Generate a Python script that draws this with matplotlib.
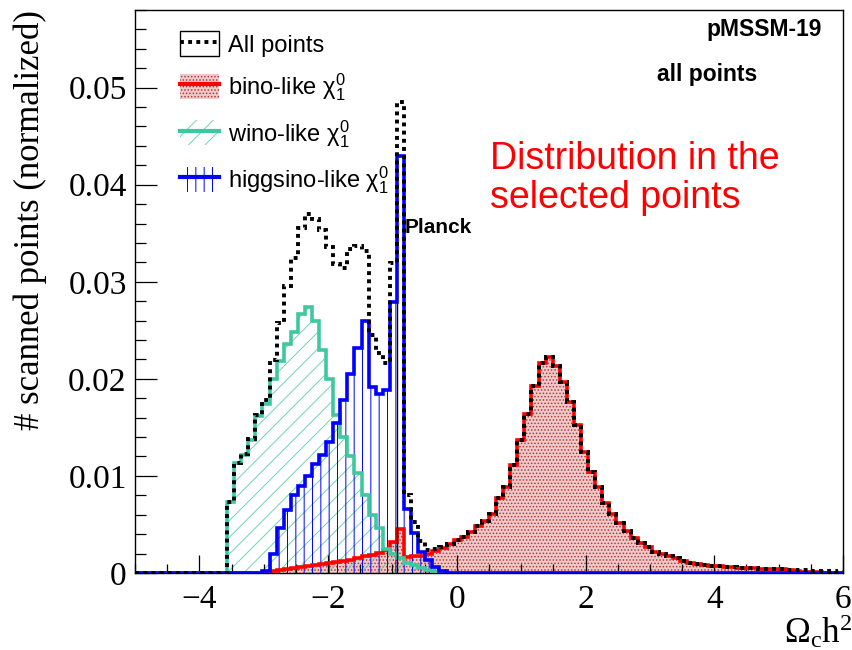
import numpy as np
import matplotlib
matplotlib.use("Agg")
import matplotlib.pyplot as plt
from matplotlib.ticker import MultipleLocator, FuncFormatter
from matplotlib.patches import Patch
from matplotlib.lines import Line2D
from matplotlib.legend_handler import HandlerTuple

# histogram binning (log10 of relic density)
x_min, x_max, n_bins = -5.0, 6.0, 100

# bin contents, normalized
all_points = [
    0, 0, 0, 0, 0, 0, 0, 0, 0, 0,
    0, 0, 0, 0.0073, 0.0113, 0.0123, 0.0138, 0.0163, 0.0178, 0.0219,
    0.0258, 0.0296, 0.0324, 0.0355, 0.0370, 0.0365, 0.0353, 0.0336, 0.0318, 0.0314,
    0.0334, 0.0337, 0.0332, 0.0245, 0.0227, 0.0216, 0.0319, 0.0485, 0.0080, 0.0053,
    0.0033, 0.0024, 0.0025, 0.0027, 0.0030, 0.0034, 0.0037, 0.0042, 0.0048, 0.0054,
    0.0061, 0.0077, 0.0089, 0.0111, 0.0137, 0.0164, 0.0193, 0.0216, 0.0223, 0.0213,
    0.0197, 0.0176, 0.0152, 0.0125, 0.0104, 0.0089, 0.0072, 0.0061, 0.0051, 0.0043,
    0.0036, 0.0031, 0.0027, 0.0022, 0.0020, 0.0017, 0.0015, 0.0012, 0.0010, 0.0009,
    0.0008, 0.0007, 0.0007, 0.0006, 0.0006, 0.0005, 0.0005, 0.0005, 0.0004, 0.0004,
    0.0004, 0.0004, 0.0003, 0.0003, 0.0003, 0.0002, 0.0002, 0.0002, 0.0002, 0.0001,
]
bino = [
    0, 0, 0, 0, 0, 0, 0, 0, 0, 0,
    0, 0, 0, 0, 0, 0, 0, 0, 0, 0.0002,
    0.0003, 0.0004, 0.0005, 0.0006, 0.0007, 0.0008, 0.0009, 0.0010, 0.0011, 0.0012,
    0.0013, 0.0015, 0.0017, 0.0019, 0.0021, 0.0024, 0.0032, 0.0045, 0.0016, 0.0017,
    0.0018, 0.0020, 0.0023, 0.0026, 0.0030, 0.0034, 0.0037, 0.0042, 0.0048, 0.0054,
    0.0061, 0.0077, 0.0089, 0.0111, 0.0137, 0.0164, 0.0193, 0.0216, 0.0223, 0.0213,
    0.0197, 0.0176, 0.0152, 0.0125, 0.0104, 0.0089, 0.0072, 0.0061, 0.0051, 0.0043,
    0.0036, 0.0031, 0.0027, 0.0022, 0.0020, 0.0017, 0.0015, 0.0012, 0.0010, 0.0009,
    0.0008, 0.0007, 0.0007, 0.0006, 0.0006, 0.0005, 0.0005, 0.0005, 0.0004, 0.0004,
    0.0004, 0.0004, 0.0003, 0.0002, 0.0001, 0.0001, 0.0001, 0, 0, 0,
]
wino = [
    0, 0, 0, 0, 0, 0, 0, 0, 0, 0,
    0, 0, 0, 0.0073, 0.0113, 0.0122, 0.0137, 0.0162, 0.0174, 0.0200,
    0.0218, 0.0236, 0.0248, 0.0267, 0.0274, 0.0260, 0.0230, 0.0200, 0.0163, 0.0140,
    0.0120, 0.0103, 0.0080, 0.0060, 0.0046, 0.0025, 0.0020, 0.0015, 0.0010, 0.0008,
    0.0005, 0.0003, 0.0001, 0, 0, 0, 0, 0, 0, 0,
] + [0] * 50
higgsino = [
    0, 0, 0, 0, 0, 0, 0, 0, 0, 0,
    0, 0, 0, 0, 0, 0, 0, 0, 0.0002, 0.0020,
    0.0046, 0.0065, 0.0080, 0.0090, 0.0100, 0.0112, 0.0122, 0.0135, 0.0155, 0.0178,
    0.0205, 0.0232, 0.0260, 0.0192, 0.0184, 0.0188, 0.0279, 0.0430, 0.0066, 0.0041,
    0.0022, 0.0013, 0.0006, 0.0002, 0, 0, 0, 0, 0, 0,
] + [0] * 50

planck_x = np.log10(0.1188)
planck_top = 0.028

edges = np.linspace(x_min, x_max, n_bins + 1)

plt.rcParams['font.family'] = ['Liberation Sans', 'DejaVu Sans']
plt.rcParams['mathtext.fontset'] = 'custom'
plt.rcParams['mathtext.rm'] = 'Liberation Serif'
plt.rcParams['mathtext.it'] = 'Liberation Serif:italic'
plt.rcParams['mathtext.sf'] = 'Liberation Sans'
plt.rcParams['hatch.linewidth'] = 0.7

red = '#ff0000'
green = '#3fc7a0'
blue = '#0000ff'
bino_face = '#efcaca'
bino_dots = '#b03a3a'
wino_hatch = '#6fd3b6'

fig = plt.figure(figsize=(8.52, 6.5), dpi=100)
ax = fig.add_axes([0.1585, 0.1185, 0.8309, 0.8661])

# fills
ax.stairs(bino, edges, fill=True, facecolor=bino_face, edgecolor=bino_dots,
          hatch='.....', linewidth=0, zorder=1)
ax.stairs(wino, edges, fill=True, facecolor='none', edgecolor=wino_hatch,
          hatch='//', linewidth=0, zorder=1.1)
ax.stairs(higgsino, edges, fill=True, facecolor='none', edgecolor=blue,
          hatch='||', linewidth=0, zorder=1.2)

# outlines
ax.stairs(bino, edges, color=red, linewidth=2.6, zorder=3)
ax.stairs(wino, edges, color=green, linewidth=2.6, zorder=3.1)
ax.stairs(higgsino, edges, color=blue, linewidth=2.6, zorder=3.2)
ax.vlines(planck_x, 0, planck_top, color='black', linewidth=1.0, zorder=3.3)
ax.stairs(all_points, edges, color='black', linewidth=2.8,
          linestyle=(0, (1, 1.1)), zorder=4)

ax.set_xlim(x_min, x_max)
ax.set_ylim(0, 0.058)

ax.xaxis.set_major_locator(MultipleLocator(2))
ax.xaxis.set_minor_locator(MultipleLocator(0.5))
ax.yaxis.set_major_locator(MultipleLocator(0.01))
ax.yaxis.set_minor_locator(MultipleLocator(0.002))
ax.yaxis.set_major_formatter(FuncFormatter(lambda v, p: f'{v:g}'))

ax.tick_params(axis='both', which='both', direction='in', top=False, right=False,
               width=0.9, labelfontfamily='Liberation Serif', labelsize=24)
ax.tick_params(axis='y', which='major', length=16, pad=6)
ax.tick_params(axis='y', which='minor', length=8)
ax.tick_params(axis='x', which='major', length=13, pad=8)
ax.tick_params(axis='x', which='minor', length=6.5)
for s in ax.spines.values():
    s.set_linewidth(1.0)

ax.set_ylabel('# scanned points (normalized)', family='Liberation Serif',
              fontsize=25, loc='top')
ax.yaxis.set_label_coords(-0.125, 1.0)
ax.set_xlabel(r'$\mathrm{\Omega_{c}h^{2}}$', fontsize=25, loc='right')
ax.xaxis.set_label_coords(1.013, -0.07)

ax.text(0.970, 0.965, 'pMSSM-19', transform=ax.transAxes, ha='right', va='center',
        fontsize=16.5, fontweight='bold')
ax.text(0.808, 0.885, 'all points', transform=ax.transAxes, ha='center', va='center',
        fontsize=16.5, fontweight='bold')
ax.text(0.381, 0.613, 'Planck', transform=ax.transAxes, ha='left', va='center',
        fontsize=15, fontweight='bold')
ax.text(0.501, 0.70, 'Distribution in the\nselected points', transform=ax.transAxes,
        ha='left', va='center', fontsize=27, color=red, linespacing=1.1)

handles = [
    (Patch(facecolor='none', edgecolor='black', linewidth=1.0),
     Line2D([], [], color='black', linewidth=2.8, linestyle=(0, (1, 1.1)))),
    (Patch(facecolor=bino_face, edgecolor=bino_dots, hatch='.....', linewidth=0),
     Line2D([], [], color=red, linewidth=3)),
    (Patch(facecolor='none', edgecolor=wino_hatch, hatch='//', linewidth=0),
     Line2D([], [], color=green, linewidth=3)),
    (Patch(facecolor='none', edgecolor=blue, hatch='||', linewidth=0),
     Line2D([], [], color=blue, linewidth=3)),
]
labels = ['All points', r'bino-like $\mathsf{\chi_{1}^{0}}$',
          r'wino-like $\mathsf{\chi_{1}^{0}}$', r'higgsino-like $\mathsf{\chi_{1}^{0}}$']
ax.legend(handles, labels, handler_map={tuple: HandlerTuple(ndivide=1, pad=0)},
          loc='upper left', bbox_to_anchor=(0.0636, 0.962), frameon=False,
          fontsize=17, handlelength=1.65, handleheight=1.25, handletextpad=0.4,
          labelspacing=0.62, borderpad=0, borderaxespad=0)

fig.savefig('out.png', dpi=100)
